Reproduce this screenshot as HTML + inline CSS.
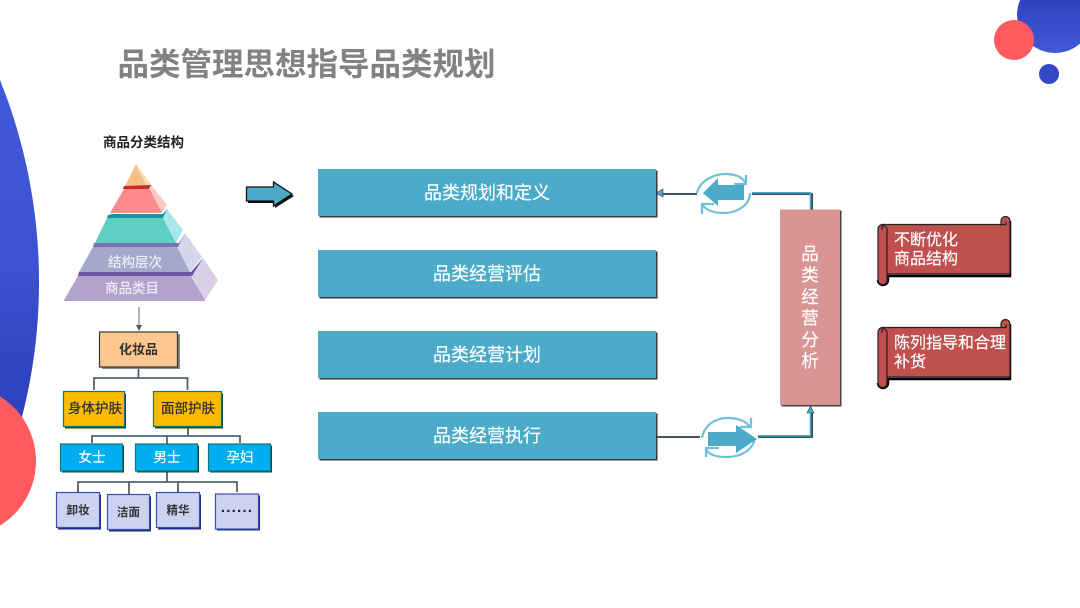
<!DOCTYPE html>
<html><head><meta charset="utf-8">
<style>
html,body{margin:0;padding:0;background:#fff;width:1080px;height:608px;overflow:hidden}
svg{display:block}
text{font-family:"Liberation Sans","Noto Sans CJK SC",sans-serif;text-anchor:middle}
</style></head><body>
<svg width="1080" height="608" viewBox="0 0 1080 608" xmlns="http://www.w3.org/2000/svg">
<defs>
<linearGradient id="bl" x1="0" y1="0" x2="0" y2="1"><stop offset="0" stop-color="#4059d8"/><stop offset=".45" stop-color="#3c52d0"/><stop offset=".85" stop-color="#2c3fbd"/><stop offset="1" stop-color="#2c3fbd"/></linearGradient>
<linearGradient id="bl2" x1="0" y1="0" x2="0" y2="1"><stop offset="0" stop-color="#2f43c0"/><stop offset="1" stop-color="#4059d8"/></linearGradient>
</defs>
<!-- decorations -->
<path d="M0,80 A542,542 0 0 1 0,484 Z" fill="url(#bl)"/>
<path d="M0,396.400 A76,76 0 0 1 0,525.600 Z" fill="#ff5a60"/>
<path d="M1020.100,0 A38,38 0 0 0 1080,43.600 V0 Z" fill="url(#bl2)"/>
<circle cx="1014" cy="40" r="20" fill="#ff5a60"/>
<circle cx="1049" cy="74" r="10" fill="#3449c6"/>
<!-- title -->
<text x="306.500" y="75" font-size="31.500" font-weight="700" fill="#828282">品类管理思想指导品类规划</text>
<!-- pyramid -->
<text x="143.500" y="147" font-size="13.500" font-weight="700" fill="#222">商品分类结构</text>
<polygon points="136,164 147,185 152,186 142,172" fill="#fbdcb4"/>
<polygon points="151,185 167,205 162,213 150,188" fill="#ffc4c4"/>
<polygon points="163,218 167,209 183,230 176,243" fill="#a9e7ea"/>
<polygon points="177,247 185,233 202,257 190,272" fill="#d3d7e8"/>
<polygon points="191,275 203,258 218,280 205,300" fill="#d8d0e6"/>
<polygon points="136,164 125,186 147,186" fill="#f6c184"/>
<polygon points="124,186 151,185 149,189 123,189" fill="#c9282c"/>
<polygon points="124,189 150,189 162,213 110,213" fill="#ff8a8c"/>
<polygon points="108,215 112,214 163,214 167,209 163,218 107,218" fill="#0f95a6"/>
<polygon points="107,218 163,218 176,243 95,243" fill="#5fcfc1"/>
<polygon points="94,243 179,243 185,233 178,247 93,247" fill="#7a72b8"/>
<polygon points="93,247 177,247 190,272 79,272" fill="#a4a9cc"/>
<polygon points="79,272 191,272 203,258 192,276 78,276" fill="#6a55a5"/>
<polygon points="78,276 191,276 205,300 64,300" fill="#b3a2cd"/>
<line x1="64" y1="300.500" x2="205" y2="300.500" stroke="#a9a3bd" stroke-width="1"/>
<text x="135" y="267" font-size="13.500" fill="#eef0f7" stroke="#eef0f7" stroke-width=".2">结构层次</text>
<text x="132" y="293" font-size="13.500" fill="#f2eef7" stroke="#f2eef7" stroke-width=".2">商品类目</text>
<!-- down arrow -->
<line x1="139" y1="307" x2="139" y2="326" stroke="#666" stroke-width="1"/>
<polygon points="136,325 142,325 139,331" fill="#555"/>
<!-- org lines -->
<g fill="none" stroke="#55606a" stroke-width="1.800">
<path d="M138.500,367 V378 M94,390 V378 H187.500 V390"/>
<path d="M188,427 V436 M92,443 V436 H240 V443 M167,436 V444"/>
<path d="M167,471 V482 M78,492 V482 H237 V492 M129,482 V494 M178,482 V492"/>
</g>
<!-- org boxes -->
<g stroke-width="1.200">
<rect x="102" y="334" width="78" height="35" fill="#8a8a8a" stroke="none"/>
<rect x="99.500" y="332" width="78" height="35" fill="#fec78f" stroke="#333"/>
<rect x="65" y="393.500" width="61" height="35" fill="#0b4a4a" stroke="none"/>
<rect x="63.500" y="391.500" width="61" height="35" fill="#fdbb00" stroke="#0c7a70"/>
<rect x="155" y="393.500" width="68" height="35" fill="#0b4a4a" stroke="none"/>
<rect x="153.500" y="391.500" width="68" height="35" fill="#fdbb00" stroke="#0c7a70"/>
<rect x="62" y="445.500" width="62" height="27" fill="#0b4a4a" stroke="none"/>
<rect x="60.500" y="444" width="62" height="27" fill="#00aeef" stroke="#0c7a70"/>
<rect x="137" y="445.500" width="62" height="27" fill="#0b4a4a" stroke="none"/>
<rect x="135.500" y="444" width="62" height="27" fill="#00aeef" stroke="#0c7a70"/>
<rect x="210" y="445.500" width="62" height="27" fill="#0b4a4a" stroke="none"/>
<rect x="208.500" y="444" width="62" height="27" fill="#00aeef" stroke="#0c7a70"/>
<rect x="58" y="494.500" width="43" height="35" fill="#1a2a8a" stroke="none"/>
<rect x="56.500" y="492.500" width="43" height="35" fill="#ccd2f2" stroke="#3d4fa8"/>
<rect x="109" y="496.500" width="42" height="35" fill="#1a2a8a" stroke="none"/>
<rect x="107.500" y="494.500" width="42" height="35" fill="#ccd2f2" stroke="#3d4fa8"/>
<rect x="158" y="494.500" width="43" height="35" fill="#1a2a8a" stroke="none"/>
<rect x="156.500" y="492.500" width="43" height="35" fill="#ccd2f2" stroke="#3d4fa8"/>
<rect x="217" y="495.500" width="43" height="35" fill="#1a2a8a" stroke="none"/>
<rect x="215.500" y="494" width="43" height="35" fill="#ccd2f2" stroke="#3d4fa8"/>
</g>
<text x="138.500" y="354" font-size="13" font-weight="700" fill="#333">化妆品</text>
<g fill="#333" stroke="#333" stroke-width=".3">
<text x="95" y="413" font-size="13.500">身体护肤</text>
<text x="188" y="413" font-size="13.500">面部护肤</text>
</g>
<g fill="#fff" stroke="#fff" stroke-width=".2">
<text x="92" y="462" font-size="13.500">女士</text>
<text x="167" y="462" font-size="13.500">男士</text>
<text x="240" y="462" font-size="13.500">孕妇</text>
</g>
<text x="78" y="514" font-size="11.500" font-weight="700" fill="#333">卸妆</text>
<text x="128.500" y="516" font-size="11.500" font-weight="700" fill="#333">洁面</text>
<text x="178" y="514" font-size="11.500" font-weight="700" fill="#333">精华</text>
<text x="237" y="516" font-size="15" font-weight="700" fill="#222" letter-spacing=".4">······</text>
<!-- big arrow -->
<polygon points="248,189 275,189 275,184 294,196 275,208 275,203 248,203" fill="#111"/>
<polygon points="246.500,187 273.500,187 273.500,182 292,194 273.500,206 273.500,201 246.500,201" fill="#4baac8" stroke="#111" stroke-width="1.300"/>
<!-- main boxes -->
<g>
<rect x="319.500" y="170.500" width="338" height="47" fill="#33393f"/>
<rect x="318" y="169" width="338" height="47" fill="#4babc8"/>
<rect x="319.500" y="251.500" width="338" height="47" fill="#33393f"/>
<rect x="318" y="250" width="338" height="47" fill="#4babc8"/>
<rect x="319.500" y="332.500" width="338" height="47" fill="#33393f"/>
<rect x="318" y="331" width="338" height="47" fill="#4babc8"/>
<rect x="319.500" y="413.500" width="338" height="47" fill="#33393f"/>
<rect x="318" y="412" width="338" height="47" fill="#4babc8"/>
</g>
<g font-size="18" fill="#fff" stroke="#fff" stroke-width=".15">
<text x="487" y="199">品类规划和定义</text>
<text x="487" y="280">品类经营评估</text>
<text x="487" y="361">品类经营计划</text>
<text x="487" y="442">品类经营执行</text>
</g>
<!-- top connector -->
<path d="M662,194 H697 M752,194 H812 V210" fill="none" stroke="#2b3a44" stroke-width="1.800"/>
<path d="M752,192.800 H810.500 V210" fill="none" stroke="#4babc8" stroke-width="1.600"/>
<polygon points="656,193 663,189 663,197" fill="#4babc8" stroke="#2b3a44" stroke-width=".6"/>
<!-- top swirl -->
<g fill="none" stroke="#6fc0d8" stroke-width="2.200">
<path d="M697,193 C700,180 715,174 725,174 C735,174 743,177 746,184"/>
<path d="M746,175 V184 H734"/>
<path d="M750,193 C750,205 737,213 724,213 C714,213 706,211 702,204"/>
<path d="M702,214 V204 H714"/>
</g>
<polygon points="703,193 718,178 718,185 744,185 744,200 718,200 718,206" fill="#4babc8"/>
<!-- bottom connector -->
<path d="M656,437 H700 M758,437 H812 V413" fill="none" stroke="#2b3a44" stroke-width="1.800"/>
<path d="M758,435.800 H810.500 V413" fill="none" stroke="#4babc8" stroke-width="1.600"/>
<polygon points="810.500,406 807,413 814,413" fill="#4babc8" stroke="#2b3a44" stroke-width=".6"/>
<!-- bottom swirl -->
<g fill="none" stroke="#6fc0d8" stroke-width="2.200">
<path d="M702,438 C704,425 716,418 727,418 C738,418 746,421 750,427"/>
<path d="M751,418 V427 H740"/>
<path d="M755,438 C753,450 741,457 727,457 C716,457 709,455 706,449"/>
<path d="M706,457 V448 H719"/>
</g>
<polygon points="708,432 736,432 736,425 757,439 736,453 736,446 708,446" fill="#4babc8"/>
<!-- analysis -->
<rect x="781.500" y="210.500" width="60" height="196" fill="#444"/>
<rect x="780" y="209.500" width="60" height="195.500" fill="#d99594"/>
<g font-size="17.500" fill="#fff" stroke="#fff" stroke-width=".15">
<text x="810" y="260">品</text>
<text x="810" y="281">类</text>
<text x="810" y="303">经</text>
<text x="810" y="324">营</text>
<text x="810" y="346">分</text>
<text x="810" y="367">析</text>
</g>
<!-- scrolls -->
<g>
<path d="M1010,221 V276 H888 V280 a5,5 0 0 1 -10,0" fill="none" stroke="#000" stroke-width="2.500"/>
<path d="M1010,324 V379 H888 V383 a5,5 0 0 1 -10,0" fill="none" stroke="#000" stroke-width="2.500"/>
<g stroke="#222" stroke-width="1.200" fill="#c0504d">
<path d="M884,224.500 H1001 V221 a4.500,4.500 0 0 1 9,0 V274 H887 V280 a4.500,4.500 0 0 1 -9,0 V229 a5,5 0 0 1 6,-4.500 Z"/>
<path d="M1001,224.500 h5 v-3 M887,274 V229 a4,4 0 0 0 -5,-3 v4" fill="none"/>
<path d="M884,327.500 H1001 V324 a4.500,4.500 0 0 1 9,0 V377 H887 V383 a4.500,4.500 0 0 1 -9,0 V332 a5,5 0 0 1 6,-4.500 Z"/>
<path d="M1001,327.500 h5 v-3 M887,377 V332 a4,4 0 0 0 -5,-3 v4" fill="none"/>
</g>
</g>
<g font-size="16" fill="#fff" stroke="#fff" stroke-width=".15">
<text x="894" y="245" style="text-anchor:start">不断优化</text>
<text x="894" y="264" style="text-anchor:start">商品结构</text>
<text x="894" y="348" style="text-anchor:start">陈列指导和合理</text>
<text x="894" y="367" style="text-anchor:start">补货</text>
</g>
</svg>
</body></html>
